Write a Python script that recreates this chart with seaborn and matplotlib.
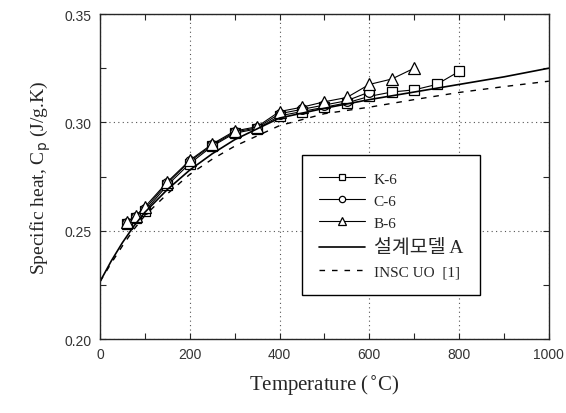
import numpy as np
import pandas as pd
import matplotlib
matplotlib.use("Agg")
import matplotlib.pyplot as plt
import seaborn as sns
from matplotlib.ticker import MultipleLocator

# measured data
temp_k6 = [60, 80, 100, 150, 200, 250, 300, 350, 400, 450, 500, 550, 600, 650, 700, 750, 800]
cp_k6 = [0.253, 0.256, 0.259, 0.271, 0.281, 0.289, 0.295, 0.297, 0.303, 0.305, 0.307, 0.309,
         0.312, 0.314, 0.315, 0.3175, 0.3235]
temp_c6 = [60, 80, 100, 150, 200, 250, 300, 350, 400, 450, 500, 550, 600]
cp_c6 = [0.2535, 0.2565, 0.260, 0.272, 0.282, 0.2895, 0.2955, 0.2975, 0.304, 0.306, 0.308,
         0.310, 0.314]
temp_b6 = [60, 80, 100, 150, 200, 250, 300, 350, 400, 450, 500, 550, 600, 650, 700]
cp_b6 = [0.254, 0.257, 0.261, 0.2725, 0.2825, 0.290, 0.296, 0.298, 0.305, 0.307, 0.3095,
         0.3115, 0.3175, 0.320, 0.325]

# model curves
temp_model = [0, 25, 50, 75, 100, 150, 200, 250, 300, 400, 500, 600, 700, 800, 900, 1000]
cp_model = [0.2265, 0.236, 0.2445, 0.252, 0.2585, 0.269, 0.278, 0.2855, 0.292, 0.302, 0.3065,
            0.3105, 0.314, 0.3175, 0.321, 0.325]
temp_insc = [0, 25, 50, 75, 100, 150, 200, 250, 300, 400, 500, 600, 700, 800, 900, 1000]
cp_insc = [0.2265, 0.235, 0.243, 0.2505, 0.257, 0.267, 0.276, 0.283, 0.289, 0.2985, 0.304,
           0.307, 0.3105, 0.3138, 0.3165, 0.319]

legend_labels = ["K-6", "C-6", "B-6", "설계모델 A", "INSC UO  [1]"]

sns.set_style("ticks")
serif = ["Liberation Serif", "Noto Sans CJK KR", "DejaVu Sans"]
plt.rcParams["font.family"] = serif

fig = plt.figure(figsize=(5.66, 4.14), dpi=100)
ax = fig.add_axes([0.1767, 0.1787, 0.793, 0.785])

mk = dict(color="black", lw=0.8, mfc="white", mec="black", mew=0.9)
sns.lineplot(x=temp_k6, y=cp_k6, marker="s", ms=7, label=legend_labels[0], ax=ax, **mk)
sns.lineplot(x=temp_c6, y=cp_c6, marker="o", ms=7, label=legend_labels[1], ax=ax, **mk)
sns.lineplot(x=temp_b6, y=cp_b6, marker="^", ms=9, label=legend_labels[2], ax=ax, **mk)
sns.lineplot(x=temp_model, y=cp_model, color="black", lw=1.2, label=legend_labels[3], ax=ax)
sns.lineplot(x=temp_insc, y=cp_insc, color="black", lw=1.0, ls=(0, (4, 5)),
             label=legend_labels[4], ax=ax)

ax.set_xlim(0, 1000)
ax.set_ylim(0.20, 0.35)
ax.xaxis.set_major_locator(MultipleLocator(200))
ax.xaxis.set_minor_locator(MultipleLocator(100))
ax.yaxis.set_major_locator(MultipleLocator(0.05))
ax.yaxis.set_minor_locator(MultipleLocator(0.025))
ax.yaxis.set_major_formatter(matplotlib.ticker.FormatStrFormatter("%.2f"))
ax.tick_params(which="both", direction="in", top=True, right=True, length=4, width=0.8)
ax.tick_params(which="major", pad=6)
for lab in ax.get_xticklabels() + ax.get_yticklabels():
    lab.set_family(["Liberation Sans", "DejaVu Sans"])
    lab.set_fontsize(10)
    lab.set_color("#333333")
ax.grid(True, which="major", ls=(0, (1, 3)), color="#555555", lw=0.8)
for sp in ax.spines.values():
    sp.set_linewidth(1.0)

ax.set_xlabel("Temperature ($^{\\circ}$C)", fontsize=15, labelpad=8)
ax.set_ylabel("Specific heat, C$_{\\rm p}$ (J/g.K)", fontsize=14, labelpad=8)

leg = ax.legend(loc="upper left", bbox_to_anchor=(0.45, 0.566), frameon=True, fancybox=False,
                edgecolor="black", framealpha=1, fontsize=11, handlelength=3.0,
                labelspacing=0.55, borderpad=1.1, markerscale=0.65, handletextpad=0.6,
                borderaxespad=0)
leg.get_frame().set_linewidth(1.0)
leg.get_texts()[3].set_fontsize(14)

fig.savefig("out.png", dpi=100)
